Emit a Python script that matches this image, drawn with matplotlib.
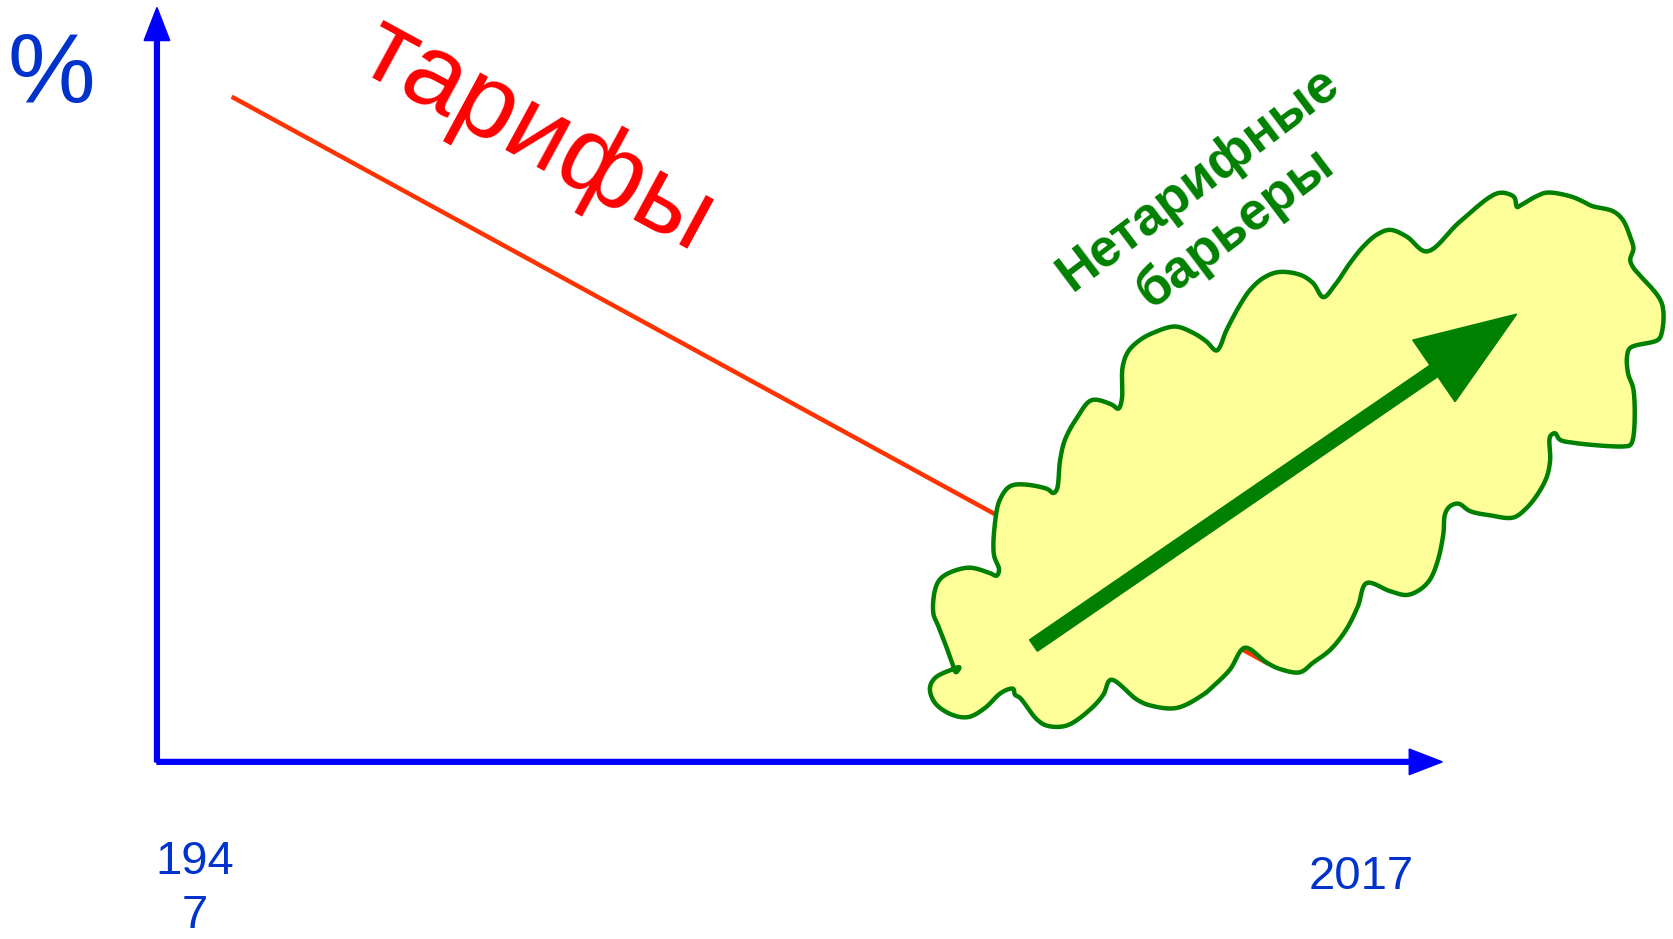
import matplotlib
matplotlib.use("Agg")
import matplotlib.pyplot as plt
from matplotlib.patches import Polygon, FancyArrow
import numpy as np

plt.rcParams['font.family'] = ['Liberation Sans', 'DejaVu Sans']

# ---- diagram content (units: canvas of 1568 x 880, y downward) ----
y_label = "%"
x_tick_labels = ["194\n7", "2017"]
x_tick_pos = [182, 1275]
x_tick_y = [833, 822]

origin = (147, 714)
x_axis_end = 1351
y_axis_end = 7

tariff_line_x = [217, 1188]
tariff_line_y = [90.6, 622]
tariff_label = "тарифы"

ntb_label = "Нетарифные\nбарьеры"
ntb_arrow_start = (968, 605)
ntb_arrow_end = (1420.6, 294.4)

cloud_x = [1403, 1416, 1419, 1421, 1425, 1439, 1449, 1471, 1483, 1491, 1511, 1520, 1527, 1530,
           1527, 1530, 1536, 1556.5, 1556.5, 1553, 1527, 1524, 1525, 1530, 1530, 1527, 1520.5,
           1474, 1461, 1456.5, 1452, 1452, 1449, 1441, 1430, 1417.5, 1396, 1377, 1366, 1358,
           1353.5, 1352, 1347, 1339.5, 1330, 1317.6, 1302, 1280, 1272, 1261, 1246, 1230, 1217.7,
           1199, 1186.5, 1166, 1152, 1136.5, 1127, 1102, 1077, 1065, 1040.4, 1033.5, 1021, 999,
           980.4, 971, 955.4, 950.7, 949.2, 945.4, 936.7, 922.6, 907, 891.4, 875.8, 871, 875.8,
           893, 898.6, 895.5, 893, 886.7, 879, 874.2, 876.8, 883.6, 907, 927, 933.5, 935.8, 931,
           932, 936.7, 947.6, 980.4, 986.6, 989.8, 993, 997.6, 1008.5, 1022.5, 1041, 1047.5,
           1050.7, 1051.6, 1057, 1068, 1080, 1100.6, 1117.7, 1130, 1139.6, 1149, 1161.5, 1171,
           1183, 1197.4, 1218, 1230, 1239.5, 1250.5, 1264.5, 1277, 1289.5, 1302, 1317.6, 1336.3,
           1367.6]
cloud_y = [181, 183, 186, 194, 192, 184, 180.5, 184, 189, 193, 198, 206, 222, 233,
           243.5, 251, 258, 284, 312, 318.5, 326, 334, 350, 365, 409, 417, 418.4,
           415, 412, 406, 409, 431, 446.5, 462, 476, 485, 483, 479, 472, 474.6,
           482, 500, 524.5, 543, 552.6, 557.6, 554, 546.4, 568, 590, 609, 621, 630,
           627, 621, 607, 627.6, 643, 651, 663.5, 661, 655.7, 637, 651, 665, 680,
           680, 674, 654, 651, 645.7, 645.7, 650, 663.5, 672, 669.7, 658.8, 645, 635.4,
           627, 625.4, 630, 624.4, 607, 587, 574.5, 549.5, 540, 532, 537, 539.5, 534, 520,
           490, 468, 455, 458, 462, 459, 431, 412, 392, 375, 379, 383,
           375, 343.5, 329, 318.5, 312, 306, 312, 320, 328.5, 309, 285.7, 271.6,
           260.7, 255, 257.6, 265.4, 278.5, 267, 246.6, 231, 220, 215.4, 221.7, 235.7,
           207.6]

BLUE = "#0000FF"
TEXT_BLUE = "#0033CC"
RED_LINE = "#FF3300"
RED_TEXT = "#FF0000"
GREEN = "#008000"
YELLOW = "#FFFF99"


def smooth_closed(xs, ys, n=8):
    """Centripetal Catmull-Rom through the outline vertices (closed)."""
    P = np.column_stack([xs, ys]).astype(float)
    m = len(P)
    out = []
    for i in range(m):
        p0, p1, p2, p3 = P[(i - 1) % m], P[i], P[(i + 1) % m], P[(i + 2) % m]
        t0 = 0.0
        t1 = t0 + np.linalg.norm(p1 - p0) ** 0.5
        t2 = t1 + np.linalg.norm(p2 - p1) ** 0.5
        t3 = t2 + np.linalg.norm(p3 - p2) ** 0.5
        for t in np.linspace(t1, t2, n, endpoint=False):
            a1 = (t1 - t) / (t1 - t0) * p0 + (t - t0) / (t1 - t0) * p1
            a2 = (t2 - t) / (t2 - t1) * p1 + (t - t1) / (t2 - t1) * p2
            a3 = (t3 - t) / (t3 - t2) * p2 + (t - t2) / (t3 - t2) * p3
            b1 = (t2 - t) / (t2 - t0) * a1 + (t - t0) / (t2 - t0) * a2
            b2 = (t3 - t) / (t3 - t1) * a2 + (t - t1) / (t3 - t1) * a3
            out.append((t2 - t) / (t2 - t1) * b1 + (t - t1) / (t2 - t1) * b2)
    return np.array(out)


fig = plt.figure(figsize=(16.74, 9.39), dpi=100)
ax = fig.add_axes([0, 0, 1, 1])
ax.set_xlim(0, 1568)
ax.set_ylim(880, 0)
ax.axis("off")

# axes arrows
ox, oy = origin
ax.add_patch(FancyArrow(ox, oy, 0, y_axis_end - oy, width=4.5, head_width=24, head_length=31,
                        length_includes_head=True, color=BLUE, zorder=2))
ax.add_patch(FancyArrow(ox, oy, x_axis_end - ox, 0, width=4.5, head_width=24, head_length=31,
                        length_includes_head=True, color=BLUE, zorder=2))

ax.text(48, 72, y_label, color=TEXT_BLUE, fontsize=71, ha="center", va="center")
for lab, xp, yp in zip(x_tick_labels, x_tick_pos, x_tick_y):
    ax.text(xp, yp, lab, color=TEXT_BLUE, fontsize=34, ha="center", va="center",
            multialignment="center", linespacing=1.3)

# tariffs line
ax.plot(tariff_line_x, tariff_line_y, color=RED_LINE, lw=3.2, zorder=3, solid_capstyle="butt")
ax.text(503, 128, tariff_label, color=RED_TEXT, fontsize=76, rotation=-28.5,
        rotation_mode="anchor", ha="center", va="center", zorder=5)

# cloud
cloud = Polygon(smooth_closed(cloud_x, cloud_y), closed=True, facecolor=YELLOW,
                edgecolor=GREEN, lw=3.2, joinstyle="round", zorder=4)
ax.add_patch(cloud)

# green arrow
sx, sy = ntb_arrow_start
ex, ey = ntb_arrow_end
ax.add_patch(FancyArrow(sx, sy, ex - sx, ey - sy, width=13, head_width=70, head_length=94,
                        length_includes_head=True, color=GREEN, zorder=6))

ax.text(1140, 191, ntb_label, color=GREEN, fontsize=38, fontweight="bold", rotation=37,
        rotation_mode="anchor", ha="center", va="center", multialignment="center",
        linespacing=1.25, zorder=6)

fig.savefig("out.png", dpi=100)
